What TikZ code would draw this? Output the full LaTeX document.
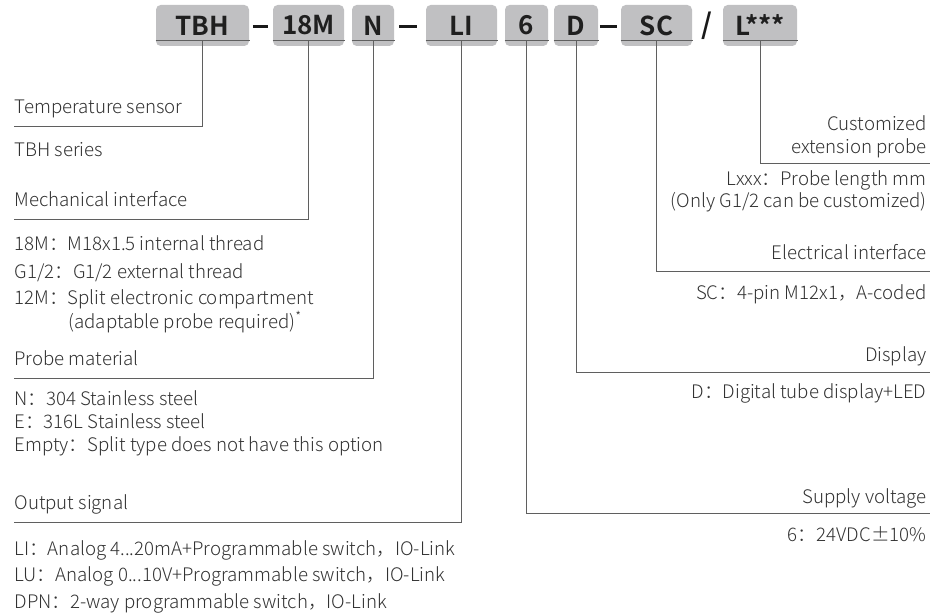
\documentclass[tikz,border=0pt]{standalone}
\usepackage{fontspec}
\IfFontExistsTF{Noto Sans CJK SC Light}
  {\setmainfont{Noto Sans CJK SC Light}[BoldFont={Noto Sans CJK SC Bold}]}
  {\setmainfont{Noto Sans CJK SC}}
\usetikzlibrary{positioning}
\definecolor{boxgray}{RGB}{192,192,194}
\definecolor{linegray}{RGB}{95,95,95}
\definecolor{txtgray}{RGB}{50,50,50}
\tikzset{every picture/.style={line width=0.75pt}}
\tikzset{
  codebox/.style={fill=boxgray, rounded corners=3.5pt, inner sep=0pt, minimum height=30.75pt, text=black!88, font=\fontsize{19.5}{21}\selectfont\bfseries},
  lead/.style={draw=linegray, line width=0.75pt},
  sepbar/.style={draw=black!90, line width=2.3pt},
  lbl/.style={anchor=base west, inner sep=0pt, text=txtgray, font=\fontsize{14}{16}\selectfont},
  rlbl/.style={anchor=base east, inner sep=0pt, text=txtgray, font=\fontsize{14}{16}\selectfont},
}

\begin{document}
\begin{tikzpicture}[x=0.75pt,y=0.75pt,yscale=-1,xscale=1]
\useasboundingbox (0,0) rectangle (930,616);

%Shape: code boxes
\node [codebox, minimum width=69.75pt] (tbh) at (202.5,25.5) {TBH};
\node [codebox, minimum width=53.25pt] (m18) at (308.5,25.5) {18M};
\node [codebox, minimum width=31.5pt] (mat) at (373,25.5) {N};
\node [codebox, minimum width=53.25pt] (sig) at (461.5,25.5) {LI};
\node [codebox, minimum width=32.25pt] (volt) at (526.5,25.5) {6};
\node [codebox, minimum width=33pt] (disp) at (576,25.5) {D};
\node [codebox, minimum width=53.25pt] (conn) at (656.5,25.5) {SC};
\node [codebox, minimum width=55.5pt] (ext) at (760,25.5) {L***};
% Text Node
\node [inner sep=0pt, font=\fontsize{21}{22}\selectfont\bfseries, text=black!90] (slash) at (707,26) {/};

%Straight Lines: separators
\draw [sepbar, shorten <=2.5pt, shorten >=3.5pt] ([yshift=1pt]tbh.east) -- ([yshift=1pt]m18.west);
\draw [sepbar, shorten <=3.5pt, shorten >=6.5pt] ([yshift=1pt]mat.east) -- ([yshift=1pt]sig.west);
\draw [sepbar, shorten <=1pt, shorten >=3pt] ([yshift=1pt]disp.east) -- ([yshift=1pt]conn.west);

%Straight Lines: underlines
\foreach \b in {tbh,m18,mat,sig,volt,disp,conn,ext}
  \draw [lead] ([yshift=-4.5pt]\b.south west) -- ([yshift=-4.5pt]\b.south east);

%Corner points
\coordinate (tbhL) at (14,127);
\coordinate (m18L) at (14,220);
\coordinate (matL) at (14,378);
\coordinate (sigL) at (14,522);
\coordinate (extR) at (930,164);
\coordinate (connR) at (930,272);
\coordinate (dispR) at (930,372);
\coordinate (voltR) at (930,513);

%Curve Lines: leaders
\draw [lead] ([yshift=-4.5pt]tbh.south) |- (tbhL);
\draw [lead] ([yshift=-4.5pt]m18.south) |- (m18L);
\draw [lead] ([yshift=-4.5pt]mat.south) |- (matL);
\draw [lead] ([yshift=-4.5pt]sig.south) |- (sigL);
\draw [lead] ([yshift=-4.5pt]ext.south) |- (extR);
\draw [lead] ([yshift=-4.5pt]conn.south) |- (connR);
\draw [lead] ([yshift=-4.5pt]disp.south) |- (dispR);
\draw [lead] ([yshift=-4.5pt]volt.south) |- (voltR);

% Text Node: left side
\node [lbl] (tsens) at (14,114) {Temperature sensor};
\node [lbl] (tser) at (14,157) {TBH series};
\node [lbl] (mech) at (14,207) {Mechanical interface};
\node [lbl] (mechA) at (14,251) {18M：M18x1.5 internal thread};
\node [lbl] (mechB) at (14,278) {G1/2：G1/2 external thread};
\node [lbl] (mechC) at (14,304) {12M：Split electronic compartment};
\node [lbl] (mechD) at (68,328) {(adaptable probe required)\textsuperscript{*}};
\node [lbl] (pmat) at (14,365) {Probe material};
\node [lbl] (pmatA) at (14,405) {N：304 Stainless steel};
\node [lbl] (pmatB) at (14,428) {E：316L Stainless steel};
\node [lbl] (pmatC) at (14,451) {Empty：Split type does not have this option};
\node [lbl] (osig) at (14,509) {Output signal};
\node [lbl] (osigA) at (14,555) {LI：Analog 4...20mA+Programmable switch，IO-Link};
\node [lbl] (osigB) at (14,581) {LU：Analog 0...10V+Programmable switch，IO-Link};
\node [lbl] (osigC) at (14,608) {DPN：2-way programmable switch，IO-Link};

% Text Node: right side
\node [rlbl] (cext) at (927,131) {Customized};
\node [rlbl] (cextB) at (927,154) {extension probe};
\node [rlbl] (lxxx) at (927,186) {Lxxx：Probe length mm};
\node [rlbl] (lxxxB) at (927,208) {(Only G1/2 can be customized)};
\node [rlbl] (eint) at (927,260) {Electrical interface};
\node [rlbl] (eintA) at (927,300) {SC：4-pin M12x1，A-coded};
\node [rlbl] (dsp) at (927,361) {Display};
\node [rlbl] (dspA) at (927,398) {D：Digital tube display+LED};
\node [rlbl] (sup) at (927,503) {Supply voltage};
\node [rlbl] (supA) at (927,541) {6：24VDC±10\%};

\end{tikzpicture}
\end{document}
